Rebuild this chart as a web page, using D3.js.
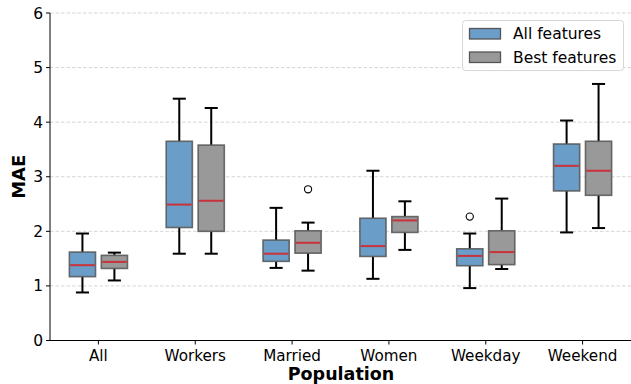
<!DOCTYPE html>
<html><head><meta charset="utf-8">
<script src="https://cdn.jsdelivr.net/npm/d3@7"></script>
<style>body{margin:0;background:#fff}svg{display:block}text{font-family:"DejaVu Sans",sans-serif}</style>
</head><body><svg id="c" width="631" height="384"></svg>
<script>
const categories = ["All","Workers","Married","Women","Weekday","Weekend"];
const seriesNames = ["All features","Best features"];
// [whiskerLow, q1, median, q3, whiskerHigh]
const allFeatures = [
  [0.88,1.17,1.38,1.62,1.96],
  [1.59,2.07,2.49,3.65,4.43],
  [1.33,1.45,1.59,1.84,2.43],
  [1.13,1.54,1.73,2.24,3.11],
  [0.96,1.37,1.55,1.68,1.96],
  [1.98,2.74,3.20,3.60,4.03]
];
const bestFeatures = [
  [1.10,1.32,1.44,1.56,1.61],
  [1.59,2.00,2.56,3.58,4.26],
  [1.28,1.60,1.79,2.01,2.16],
  [1.66,1.98,2.20,2.27,2.55],
  [1.31,1.39,1.62,2.01,2.60],
  [2.06,2.66,3.11,3.65,4.70]
];
const allOutliers = [[],[],[],[],[2.27],[]];
const bestOutliers = [[],[],[2.77],[],[],[]];
const yTicks = [0,1,2,3,4,5,6];

const svg = d3.select("#c");
const m = {l:50, t:13, r:631, b:340.5};
const x = d3.scaleLinear().domain([0.5,6.5]).range([m.l, m.r]);
const y = d3.scaleLinear().domain([0,6]).range([m.b, m.t]);

// grid
svg.append("g").selectAll("line").data(yTicks.filter(d=>d>0)).join("line")
  .attr("x1",m.l).attr("x2",m.r).attr("y1",d=>y(d)).attr("y2",d=>y(d))
  .attr("stroke","#cccccc").attr("stroke-width",0.8).attr("stroke-dasharray","3.5,2");

const series = [
  {data:allFeatures, out:allOutliers, off:-0.165, fill:"#6a9ec8"},
  {data:bestFeatures, out:bestOutliers, off:0.165, fill:"#999999"}
];
const bw = 0.27;
series.forEach(s=>{
  const g = svg.append("g");
  s.data.forEach((d,i)=>{
    const cx = x(i+1+s.off), x0 = x(i+1+s.off-bw/2), x1 = x(i+1+s.off+bw/2);
    const capw = (x1-x0)*0.5;
    g.append("line").attr("x1",cx).attr("x2",cx).attr("y1",y(d[0])).attr("y2",y(d[1])).attr("stroke","#000").attr("stroke-width",2);
    g.append("line").attr("x1",cx).attr("x2",cx).attr("y1",y(d[3])).attr("y2",y(d[4])).attr("stroke","#000").attr("stroke-width",2);
    [d[0],d[4]].forEach(v=>g.append("line").attr("x1",cx-capw/2).attr("x2",cx+capw/2).attr("y1",y(v)).attr("y2",y(v)).attr("stroke","#000").attr("stroke-width",2));
    g.append("rect").attr("x",x0).attr("y",y(d[3])).attr("width",x1-x0).attr("height",y(d[1])-y(d[3]))
      .attr("fill",s.fill).attr("stroke","#555").attr("stroke-opacity",0.85).attr("stroke-width",1.6);
    g.append("line").attr("x1",x0+0.8).attr("x2",x1-0.8).attr("y1",y(d[2])).attr("y2",y(d[2])).attr("stroke","#c8323a").attr("stroke-width",2);
    s.out[i].forEach(v=>g.append("circle").attr("cx",cx).attr("cy",y(v)).attr("r",3.6).attr("fill","none").attr("stroke","#000").attr("stroke-width",1.1));
  });
});

// axes
const ax = svg.append("g").attr("stroke","#000");
ax.append("line").attr("x1",m.l).attr("x2",m.l).attr("y1",m.t).attr("y2",m.b).attr("stroke-width",1);
ax.append("line").attr("x1",m.l).attr("x2",m.r).attr("y1",m.b).attr("y2",m.b).attr("stroke-width",1);
svg.append("g").selectAll("line").data(yTicks).join("line")
  .attr("x1",m.l-4).attr("x2",m.l).attr("y1",d=>y(d)).attr("y2",d=>y(d)).attr("stroke","#000");
svg.append("g").selectAll("text").data(yTicks).join("text")
  .attr("x",m.l-7).attr("y",d=>y(d)).attr("dy","0.36em").attr("text-anchor","end")
  .attr("font-size",15.5).attr("fill","#000").text(d=>d);
svg.append("g").selectAll("line").data(categories).join("line")
  .attr("x1",(d,i)=>x(i+1)).attr("x2",(d,i)=>x(i+1)).attr("y1",m.b).attr("y2",m.b+4).attr("stroke","#000");
svg.append("g").selectAll("text").data(categories).join("text")
  .attr("x",(d,i)=>x(i+1)).attr("y",m.b+20.5).attr("text-anchor","middle")
  .attr("font-size",15.2).attr("fill","#000").text(d=>d);
svg.append("text").attr("x",341).attr("y",380).attr("text-anchor","middle").attr("font-size",17.5).attr("font-weight","bold").text("Population");
svg.append("text").attr("transform",`translate(25,${(m.t+m.b)/2}) rotate(-90)`).attr("text-anchor","middle").attr("font-size",18).attr("font-weight","bold").text("MAE");

// legend
const lg = svg.append("g");
lg.append("rect").attr("x",462.5).attr("y",20.5).attr("width",161).attr("height",50).attr("rx",3)
  .attr("fill","#fff").attr("fill-opacity",0.8).attr("stroke","#d6d6d6");
seriesNames.forEach((n,i)=>{
  const yy = 28.5 + i*23.5;
  lg.append("rect").attr("x",469.5).attr("y",yy).attr("width",31).attr("height",10.5)
    .attr("fill",series[i].fill).attr("stroke","#555").attr("stroke-width",1.3);
  lg.append("text").attr("x",513).attr("y",yy+10.5).attr("font-size",15.5).attr("fill","#000").text(n);
});
</script></body></html>
